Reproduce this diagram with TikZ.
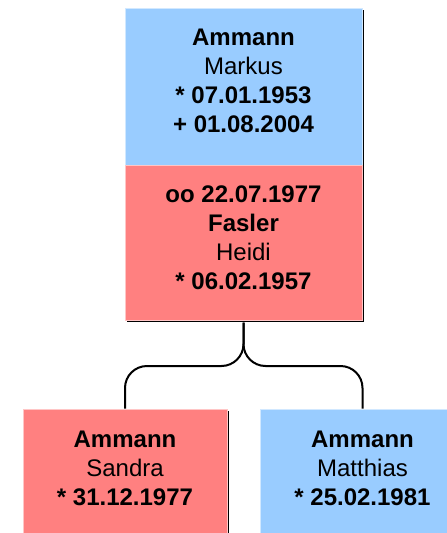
\documentclass[tikz,border=0pt]{standalone}
\usepackage{fontspec}
\setmainfont{Liberation Sans}
\usetikzlibrary{shadows}
\definecolor{mblue}{HTML}{99CCFF}
\definecolor{fred}{HTML}{FF8080}
\begin{document}
\begin{tikzpicture}[x=1pt,y=-1pt,
  person/.style={rectangle, inner sep=0pt, line width=1pt,
    general shadow={fill=black, shadow xshift=2pt, shadow yshift=-2pt}},
  male/.style={person, fill=mblue, draw=mblue!45!white},
  female/.style={person, fill=fred, draw=fred!45!white},
  lbl/.style={align=center, inner sep=0pt, font=\fontsize{24}{29}\selectfont},
  link/.style={line width=2pt, rounded corners=22pt}]
\useasboundingbox (0,0) rectangle (447,533);
\clip (0,0) rectangle (447,533);
% boxes
\node[male, minimum width=237pt, minimum height=157pt] (markus) at (243.5,86.5) {};
\node[female, minimum width=237pt, minimum height=155pt] (heidi) at (243.5,242.5) {};
\node[female, minimum width=204pt, minimum height=150pt] (sandra) at (125,484) {};
\node[male, minimum width=205pt, minimum height=150pt] (matthias) at (362.5,484) {};
% texts
\node[lbl] (markus-t) at (243.5,81) {\textbf{Ammann}\\Markus\\\textbf{* 07.01.1953}\\\textbf{+ 01.08.2004}};
\node[lbl] (heidi-t) at (243.5,238) {\textbf{oo 22.07.1977}\\\textbf{Fasler}\\Heidi\\\textbf{* 06.02.1957}};
\node[lbl] (sandra-t) at (125,468) {\textbf{Ammann}\\Sandra\\\textbf{* 31.12.1977}};
\node[lbl] (matthias-t) at (362.5,468) {\textbf{Ammann}\\Matthias\\\textbf{* 25.02.1981}};
% connectors
\coordinate (fork) at (243.5,366);
\draw[link] ([yshift=-2pt]heidi.south) -- (fork) -| (sandra.north);
\draw[link] ([yshift=-2pt]heidi.south) -- (fork) -| (matthias.north);
\end{tikzpicture}
\end{document}
